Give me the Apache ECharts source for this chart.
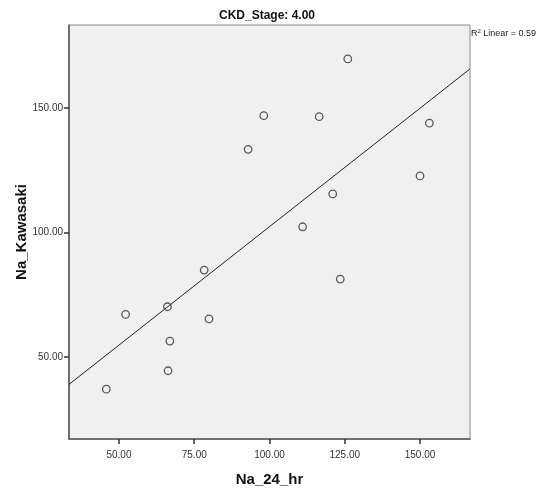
<!DOCTYPE html>
<html>
<head>
<meta charset="utf-8">
<script src="https://cdn.jsdelivr.net/npm/echarts@6/dist/echarts.min.js"></script>
<style>
  html, body { margin: 0; padding: 0; background: #fff; }
  #chart { width: 542px; height: 490px; }
</style>
</head>
<body>
<div id="chart"></div>
<script>
    // values
    var naHr = [45.8, 52.2, 66.1, 66.9, 66.3, 78.3, 79.9, 92.9, 98.1, 111.0, 116.5, 121.0, 123.5, 126.0, 150.0, 153.1];
    var naKawasaki = [37.1, 67.1, 70.2, 56.4, 44.5, 84.9, 65.3, 133.4, 146.9, 102.3, 146.5, 115.5, 81.3, 169.7, 122.7, 143.9];

    var xTicks = [50, 75, 100, 125, 150];
    var yTicks = [50, 100, 150];
    var xRange = [33.4, 166.6];
    var yRange = [17.1, 183.3];

    var fontName = '"Liberation Sans Narrow", "Liberation Sans", Arial, sans-serif';

    function fitLine(xs, ys) {
        // simple least squares
        var n = xs.length, mx = 0, my = 0;
        for (var i = 0; i < n; i++) { mx += xs[i]; my += ys[i]; }
        mx /= n; my /= n;
        var sxy = 0, sxx = 0;
        for (var j = 0; j < n; j++) {
            sxy += (xs[j] - mx) * (ys[j] - my);
            sxx += (xs[j] - mx) * (xs[j] - mx);
        }
        var b = sxy / sxx;
        return { a: my - b * mx, b: b };
    }

    var fit = fitLine(naHr, naKawasaki);
    var points = naHr.map(function(x, i) { return [x, naKawasaki[i]]; });
    var lineData = xRange.map(function(x) { return [x, fit.a + fit.b * x]; });

    var chart = echarts.init(document.getElementById('chart'));

    var option = {
        animation: false,
        title: {
            text: 'CKD_Stage: 4.00',
            left: 262,
            top: 5,
            textAlign: 'center',
            textStyle: { fontFamily: fontName, fontSize: 12, fontWeight: 'bold', color: '#111' }
        },
        graphic: [{
            type: 'text',
            left: 471,
            top: 28,
            style: {
                text: '{n|R}{s|2}{n| Linear = 0.59}',
                rich: {
                    n: { fontFamily: fontName, fontSize: 9, fill: '#222' },
                    s: { fontFamily: fontName, fontSize: 6, fill: '#222', verticalAlign: 'top', padding: [0, 0, 5, 0] }
                }
            }
        }],
        grid: {
            left: 69,
            right: 72,
            top: 25,
            bottom: 51,
            outerBoundsMode: 'none',
            containLabel: false,
            show: true,
            backgroundColor: '#f0f0f0',
            borderColor: '#8a8a8a',
            borderWidth: 1
        },
        xAxis: {
            type: 'value',
            min: xRange[0],
            max: xRange[1],
            name: 'Na_24_hr',
            nameLocation: 'middle',
            nameGap: 33,
            nameMoveOverlap: false,
            nameTextStyle: { fontFamily: fontName, fontSize: 15, fontWeight: 'bold', color: '#111' },
            axisLine: { show: true, lineStyle: { color: '#555', width: 1.5 } },
            axisTick: { show: true, length: 5, customValues: xTicks, lineStyle: { color: '#333', width: 1.5 } },
            axisLabel: {
                customValues: xTicks,
                margin: 11,
                fontFamily: fontName,
                fontSize: 10,
                color: '#333',
                formatter: function(v) { return v.toFixed(2); }
            },
            splitLine: { show: false }
        },
        yAxis: {
            type: 'value',
            min: yRange[0],
            max: yRange[1],
            name: 'Na_Kawasaki',
            nameLocation: 'middle',
            nameGap: 40,
            nameMoveOverlap: false,
            nameTextStyle: { fontFamily: fontName, fontSize: 15, fontWeight: 'bold', color: '#111' },
            axisLine: { show: true, lineStyle: { color: '#555', width: 1.5 } },
            axisTick: { show: true, length: 5, customValues: yTicks, lineStyle: { color: '#333', width: 1.5 } },
            axisLabel: {
                customValues: yTicks,
                margin: 6,
                fontFamily: fontName,
                fontSize: 10,
                color: '#333',
                formatter: function(v) { return v.toFixed(2); }
            },
            splitLine: { show: false }
        },
        series: [{
            type: 'line',
            data: lineData,
            symbol: 'none',
            lineStyle: { color: '#222', width: 1 },
            silent: true,
            z: 2
        }, {
            type: 'scatter',
            data: points,
            symbol: 'circle',
            symbolSize: 7.5,
            itemStyle: { color: 'rgba(0,0,0,0)', borderColor: '#333', borderWidth: 1.3 },
            z: 3
        }]
    };
    chart.setOption(option);
</script>
</body>
</html>
